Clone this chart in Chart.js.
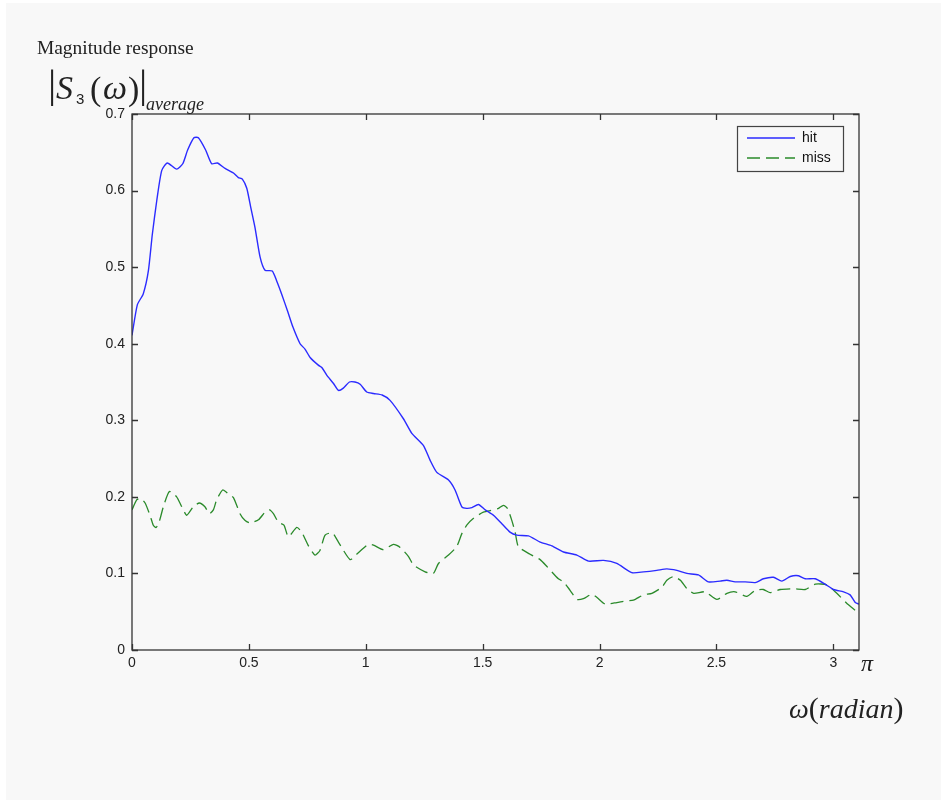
<!DOCTYPE html>
<html>
<head>
<meta charset="utf-8">
<script src="https://cdn.jsdelivr.net/npm/chart.js@4.4.1/dist/chart.umd.min.js"></script>
<style>
    html, body { margin: 0; padding: 0; background: #ffffff; }
    #wrap { position: relative; width: 947px; height: 805px; overflow: hidden; }
    #panel { position: absolute; left: 6px; top: 3px; width: 935px; height: 797px; background: #f8f8f8; }
    canvas { position: absolute; left: 0; top: 0; }
    .serif { position: absolute; font-family: "Liberation Serif", "Times New Roman", serif; color: #222; white-space: nowrap; line-height: 1; }
    .sans { position: absolute; font-family: "Liberation Sans", Arial, sans-serif; color: #222; white-space: nowrap; line-height: 1; }
</style>
</head>
<body>
<div id="wrap">
    <div id="panel"></div>
    <canvas id="magChart" width="947" height="805"></canvas>
    <div class="serif" style="left:37px; top:38px; font-size:19.4px;">Magnitude response</div>
    <!-- |S3(ω)|average -->
    <div class="serif" style="left:48px; top:63px; font-size:41px;">|</div>
    <div class="serif" style="left:56px; top:71px; font-size:34px;"><i>S</i></div>
    <div class="sans" style="left:76px; top:91px; font-size:15px;">3</div>
    <div class="serif" style="left:90px; top:72px; font-size:34px;">(</div>
    <div class="serif" style="left:103px; top:71px; font-size:34px;"><i>ω</i></div>
    <div class="serif" style="left:128px; top:72px; font-size:34px;">)</div>
    <div class="serif" style="left:139px; top:63px; font-size:41px;">|</div>
    <div class="serif" style="left:146px; top:95px; font-size:18px;"><i>average</i></div>
    <div class="serif" style="left:861px; top:651px; font-size:24px;"><i>π</i></div>
    <div class="serif" style="left:789px; top:693px; font-size:28px;"><i>ω</i><span style="font-size:30px;">(</span><i>radian</i><span style="font-size:30px;">)</span></div>
</div>
<script>
const hitX = [0, 0.023, 0.048, 0.07, 0.087, 0.106, 0.127, 0.151, 0.191, 0.217, 0.238, 0.265, 0.284, 0.315, 0.341, 0.365, 0.398, 0.434, 0.455, 0.472, 0.491, 0.508, 0.526, 0.548, 0.569, 0.6, 0.619, 0.64, 0.665, 0.688, 0.719, 0.74, 0.762, 0.797, 0.812, 0.833, 0.862, 0.883, 0.904, 0.93, 0.954, 0.976, 1.004, 1.033, 1.07, 1.104, 1.161, 1.197, 1.247, 1.275, 1.304, 1.354, 1.382, 1.411, 1.432, 1.454, 1.482, 1.511, 1.546, 1.582, 1.617, 1.646, 1.696, 1.746, 1.796, 1.846, 1.903, 1.953, 2.017, 2.074, 2.138, 2.188, 2.245, 2.288, 2.331, 2.374, 2.423, 2.466, 2.516, 2.545, 2.58, 2.623, 2.666, 2.701, 2.744, 2.78, 2.816, 2.851, 2.88, 2.923, 2.965, 3.001, 3.044, 3.072, 3.094, 3.11];
const hitY = [0.411, 0.451, 0.465, 0.495, 0.543, 0.587, 0.626, 0.636, 0.628, 0.635, 0.653, 0.669, 0.669, 0.653, 0.635, 0.636, 0.629, 0.623, 0.617, 0.615, 0.603, 0.578, 0.552, 0.513, 0.496, 0.495, 0.482, 0.465, 0.443, 0.422, 0.4, 0.393, 0.382, 0.372, 0.369, 0.359, 0.348, 0.339, 0.342, 0.35, 0.35, 0.347, 0.337, 0.335, 0.333, 0.326, 0.302, 0.283, 0.267, 0.248, 0.232, 0.222, 0.209, 0.187, 0.185, 0.186, 0.19, 0.183, 0.176, 0.165, 0.154, 0.15, 0.149, 0.141, 0.136, 0.128, 0.124, 0.116, 0.117, 0.113, 0.101, 0.102, 0.104, 0.106, 0.104, 0.1, 0.098, 0.089, 0.09, 0.091, 0.089, 0.089, 0.088, 0.093, 0.095, 0.09, 0.096, 0.097, 0.093, 0.093, 0.086, 0.079, 0.076, 0.072, 0.062, 0.06];

const missX = [0, 0.02, 0.037, 0.056, 0.077, 0.091, 0.103, 0.117, 0.134, 0.16, 0.191, 0.213, 0.234, 0.262, 0.288, 0.312, 0.331, 0.348, 0.362, 0.388, 0.412, 0.434, 0.462, 0.484, 0.505, 0.541, 0.569, 0.588, 0.605, 0.626, 0.65, 0.669, 0.705, 0.726, 0.755, 0.783, 0.804, 0.826, 0.857, 0.883, 0.933, 0.961, 1.011, 1.033, 1.075, 1.118, 1.147, 1.183, 1.204, 1.254, 1.289, 1.311, 1.354, 1.389, 1.411, 1.432, 1.461, 1.503, 1.546, 1.568, 1.589, 1.606, 1.625, 1.639, 1.653, 1.703, 1.746, 1.775, 1.824, 1.846, 1.874, 1.903, 1.931, 1.967, 1.988, 2.024, 2.074, 2.11, 2.145, 2.188, 2.224, 2.267, 2.288, 2.317, 2.346, 2.374, 2.403, 2.452, 2.502, 2.545, 2.58, 2.63, 2.666, 2.701, 2.73, 2.773, 2.83, 2.88, 2.923, 2.973, 3.015, 3.065, 3.11];
const missY = [0.183, 0.196, 0.198, 0.192, 0.176, 0.163, 0.16, 0.168, 0.187, 0.207, 0.2, 0.187, 0.176, 0.187, 0.192, 0.187, 0.178, 0.183, 0.196, 0.209, 0.204, 0.199, 0.178, 0.169, 0.166, 0.17, 0.18, 0.183, 0.178, 0.167, 0.163, 0.148, 0.16, 0.154, 0.136, 0.124, 0.13, 0.15, 0.153, 0.141, 0.118, 0.125, 0.138, 0.137, 0.131, 0.138, 0.134, 0.122, 0.111, 0.102, 0.1, 0.113, 0.124, 0.135, 0.152, 0.163, 0.172, 0.18, 0.183, 0.185, 0.189, 0.185, 0.169, 0.154, 0.135, 0.125, 0.118, 0.109, 0.093, 0.089, 0.078, 0.066, 0.067, 0.073, 0.069, 0.06, 0.062, 0.064, 0.065, 0.072, 0.074, 0.082, 0.091, 0.096, 0.091, 0.08, 0.074, 0.076, 0.066, 0.074, 0.076, 0.07, 0.078, 0.079, 0.075, 0.079, 0.08, 0.079, 0.086, 0.085, 0.074, 0.059, 0.048];

const xTicks = [0, 0.5, 1, 1.5, 2, 2.5, 3];
const yTicks = [0, 0.1, 0.2, 0.3, 0.4, 0.5, 0.6, 0.7];

const toPoints = (xs, ys) => xs.map((x, i) => ({ x: x, y: ys[i] }));

// MATLAB style box with inward ticks on all sides, plus boxed legend
const matlabBox = {
    id: 'matlabBox',
    afterDraw(chart) {
        const { ctx, chartArea: a, scales } = chart;
        const tl = 6;
        ctx.save();
        ctx.strokeStyle = '#333';
        ctx.lineWidth = 1.3;
        ctx.strokeRect(a.left, a.top, a.right - a.left, a.bottom - a.top);
        ctx.beginPath();
        xTicks.forEach(v => {
            const px = Math.round(scales.x.getPixelForValue(v)) + 0.5;
            ctx.moveTo(px, a.bottom); ctx.lineTo(px, a.bottom - tl);
            ctx.moveTo(px, a.top); ctx.lineTo(px, a.top + tl);
        });
        yTicks.forEach(v => {
            const py = Math.round(scales.y.getPixelForValue(v)) + 0.5;
            ctx.moveTo(a.left, py); ctx.lineTo(a.left + tl, py);
            ctx.moveTo(a.right, py); ctx.lineTo(a.right - tl, py);
        });
        ctx.stroke();

        // legend
        const lx = a.right - 122, ly = a.top + 12, lw = 106, lh = 45;
        ctx.fillStyle = '#f8f8f8';
        ctx.fillRect(lx, ly, lw, lh);
        ctx.strokeStyle = '#444';
        ctx.lineWidth = 1.2;
        ctx.strokeRect(lx + 0.5, ly + 0.5, lw, lh);
        ctx.font = '14px "Liberation Sans", Arial, sans-serif';
        ctx.textBaseline = 'middle';
        chart.data.datasets.forEach((ds, i) => {
            const yy = ly + 12 + i * 20;
            ctx.strokeStyle = ds.borderColor;
            ctx.lineWidth = ds.borderWidth;
            ctx.setLineDash(ds.borderDash || []);
            ctx.beginPath();
            ctx.moveTo(lx + 10, yy); ctx.lineTo(lx + 58, yy);
            ctx.stroke();
            ctx.setLineDash([]);
            ctx.fillStyle = '#111';
            ctx.fillText(ds.label, lx + 65, yy);
        });
        ctx.restore();
    }
};

new Chart(document.getElementById('magChart'), {
    type: 'line',
    data: {
        datasets: [
            {
                label: 'hit',
                data: toPoints(hitX, hitY),
                borderColor: '#2b2bff',
                borderWidth: 1.4,
                pointRadius: 0,
                tension: 0.2,
            },
            {
                label: 'miss',
                data: toPoints(missX, missY),
                borderColor: '#2a8a2a',
                borderWidth: 1.3,
                borderDash: [13, 6],
                pointRadius: 0,
                tension: 0.2,
            },
        ],
    },
    options: {
        responsive: false,
        animation: false,
        layout: { padding: { left: 0, top: 114, right: 88, bottom: 115 } },
        plugins: {
            legend: { display: false },
            tooltip: { enabled: false },
        },
        scales: {
            x: {
                type: 'linear',
                min: 0,
                max: 3.11,
                afterBuildTicks(scale) { scale.ticks = xTicks.map(v => ({ value: v })); },
                afterFit(scale) { scale.height = 40; },
                grid: { display: false, drawTicks: false },
                border: { display: false },
                ticks: {
                    padding: 5,
                    color: '#222',
                    maxRotation: 0,
                    font: { family: '"Liberation Sans", Arial, sans-serif', size: 14 },
                    callback: v => String(v),
                },
            },
            y: {
                type: 'linear',
                min: 0,
                max: 0.7,
                afterBuildTicks(scale) { scale.ticks = yTicks.map(v => ({ value: v })); },
                afterFit(scale) { scale.width = 132; },
                grid: { display: false, drawTicks: false },
                border: { display: false },
                ticks: {
                    padding: 7,
                    color: '#222',
                    font: { family: '"Liberation Sans", Arial, sans-serif', size: 14 },
                    callback: v => String(v),
                },
            },
        },
    },
    plugins: [matlabBox],
});
</script>
</body>
</html>
